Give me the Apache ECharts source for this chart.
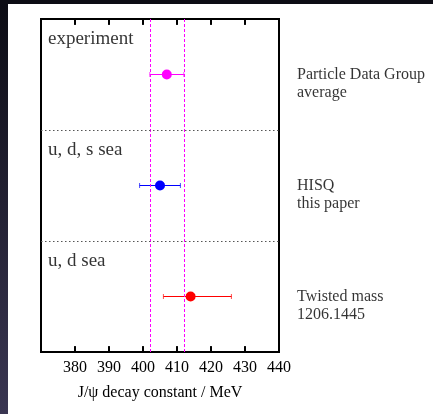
<!DOCTYPE html>
<html>
<head>
<meta charset="utf-8">
<script src="https://cdn.jsdelivr.net/npm/echarts@6/dist/echarts.min.js"></script>
<style>
  html, body { margin: 0; padding: 0; background: #fff; }
  #chart { width: 433px; height: 414px; }
</style>
</head>
<body>
<div id="chart"></div>
<script>
// 各组数据
const groupNames = ['experiment', 'u, d, s sea', 'u, d sea'];
const sourceNames = [['Particle Data Group', 'average'], ['HISQ', 'this paper'], ['Twisted mass', '1206.1445']];
const central = [407, 405, 414];
const lower = [402, 399, 406];
const upper = [412, 411, 426];
const rowY = [2.5, 1.5, 0.5];
const bandTop = [3, 2, 1];
const separators = [2, 1];
const pdgBand = [402, 412];
const colors = ['#ff00ff', '#0000ff', '#ff0000'];
const xTicks = [380, 390, 400, 410, 420, 430];
const xMin = 370;
const xMax = 440;
const xStep = 10;
const yMin = 0;
const yMax = 3;

const font = 'Liberation Serif';

const chart = echarts.init(document.getElementById('chart'), null, { renderer: 'canvas' });

const errorBars = {
    type: 'custom',
    data: central.map((v, i) => [lower[i], upper[i], rowY[i]]),
    clip: false,
    z: 3,
    renderItem: (params, api) => {
        const y = api.value(2);
        const lo = api.coord([api.value(0), y]);
        const hi = api.coord([api.value(1), y]);
        const c = colors[params.dataIndex];
        return {
            type: 'group',
            children: [
                { type: 'line', shape: { x1: lo[0], y1: lo[1], x2: hi[0], y2: hi[1] }, style: { stroke: c, lineWidth: 1.2 } },
                { type: 'line', shape: { x1: lo[0], y1: lo[1] - 2.5, x2: lo[0], y2: lo[1] + 2.5 }, style: { stroke: c, lineWidth: 1, opacity: 0.7 } },
                { type: 'line', shape: { x1: hi[0], y1: hi[1] - 2.5, x2: hi[0], y2: hi[1] + 2.5 }, style: { stroke: c, lineWidth: 1, opacity: 0.7 } }
            ]
        };
    }
};

// 刻度：上下边朝内的小矩形
const tickMarks = {
    type: 'custom',
    data: xTicks.map(v => [v, yMin, yMax]),
    clip: false,
    z: 6,
    renderItem: (params, api) => {
        const b = api.coord([api.value(0), api.value(1)]);
        const t = api.coord([api.value(0), api.value(2)]);
        return {
            type: 'group',
            children: [
                { type: 'rect', shape: { x: t[0] - 0.9, y: t[1], width: 1.8, height: 6 }, style: { fill: '#000' } },
                { type: 'rect', shape: { x: b[0] - 0.9, y: b[1] - 6, width: 1.8, height: 6 }, style: { fill: '#000' } }
            ]
        };
    }
};

const tickAxis = (pos) => ({
    type: 'value', position: pos, min: xMin, max: xMax, interval: xStep,
    axisLine: { show: true, onZero: false, lineStyle: { color: '#000', width: 2 } },
    axisTick: { show: true, inside: true, length: 5, lineStyle: { color: '#000', width: 2 } },
    splitLine: { show: false }
});

chart.setOption({
    animation: false,
    backgroundColor: '#fff',
    graphic: [
        {
            type: 'rect', left: 0, top: 0, z: 100,
            shape: { width: 8, height: 414 },
            style: {
                fill: new echarts.graphic.LinearGradient(0, 0, 0, 1, [
                    { offset: 0, color: '#0c0c14' },
                    { offset: 1, color: '#3a3652' }
                ])
            }
        },
        { type: 'rect', left: 0, top: 0, z: 100, shape: { width: 433, height: 4 }, style: { fill: '#0d0d15' } }
    ],
    grid: {
        left: 41, top: 19, width: 238, height: 333,
        show: true, borderColor: '#000', borderWidth: 2, backgroundColor: 'transparent'
    },
    xAxis: [
        Object.assign(tickAxis('bottom'), {
            axisLabel: {
                color: '#000', fontFamily: font, fontSize: 16, margin: 8,
                formatter: (v) => (v === xMin ? '' : String(v))
            },
            name: 'J/\u03c8 decay constant / MeV',
            nameLocation: 'middle',
            nameGap: 33,
            nameTextStyle: { color: '#000', fontFamily: font, fontSize: 16 }
        }),
        Object.assign(tickAxis('top'), { axisLabel: { show: false } })
    ],
    yAxis: {
        type: 'value', min: yMin, max: yMax, interval: 1,
        axisLine: { show: false }, axisTick: { show: false }, axisLabel: { show: false },
        splitLine: { show: false }
    },
    series: [
        errorBars,
        tickMarks,
        {
            type: 'scatter',
            symbol: 'circle',
            symbolSize: 10,
            z: 4,
            clip: false,
            data: central.map((v, i) => ({ value: [v, rowY[i]], itemStyle: { color: colors[i], opacity: 1 } })),
            markLine: {
                silent: true,
                symbol: 'none',
                label: { show: false },
                data: pdgBand.map(v => ({ xAxis: v, lineStyle: { color: '#ff00ff', type: [3, 2], width: 1 } }))
                    .concat(separators.map(v => ({ yAxis: v, lineStyle: { color: '#555', type: [1.5, 2.5], width: 1.2 } })))
            }
        },
        {
            // 组名（左上角）
            type: 'scatter',
            symbolSize: 0,
            silent: true,
            clip: false,
            data: groupNames.map((g, i) => ({ value: [xMin, bandTop[i]], name: g })),
            label: {
                show: true, position: 'right', distance: 0, offset: [7, 20],
                formatter: (p) => p.name,
                color: '#000', fontFamily: font, fontSize: 19
            }
        },
        {
            // 右侧说明
            type: 'scatter',
            symbolSize: 0,
            silent: true,
            clip: false,
            data: sourceNames.map((s, i) => ({ value: [xMax, rowY[i]], name: s.join('\n') })),
            label: {
                show: true, position: 'right', distance: 0, offset: [18, 9],
                formatter: (p) => p.name,
                lineHeight: 18,
                color: '#000', fontFamily: font, fontSize: 16
            }
        }
    ]
});
</script>
</body>
</html>
